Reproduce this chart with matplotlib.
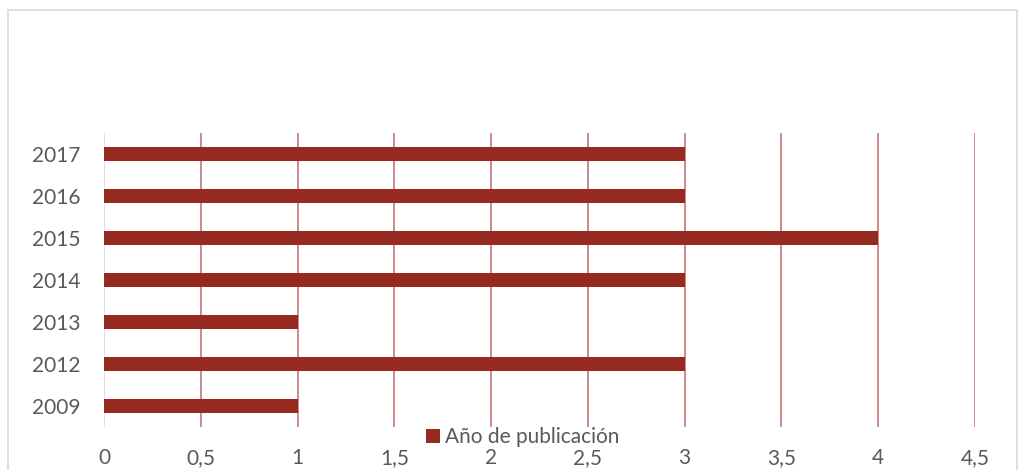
import matplotlib.pyplot as plt
from matplotlib.patches import Rectangle
import numpy as np

plt.rcParams['font.family'] = ['Lato', 'DejaVu Sans']

years = ['2009', '2012', '2013', '2014', '2015', '2016', '2017']
counts = [1, 3, 1, 3, 4, 3, 3]
xticks = [0, 0.5, 1, 1.5, 2, 2.5, 3, 3.5, 4, 4.5]
xtick_labels = ['0', '0,5', '1', '1,5', '2', '2,5', '3', '3,5', '4', '4,5']

bar_color = '#962A20'
grid_color = '#CC8080'
text_color = '#595959'

fig = plt.figure(figsize=(10.19, 4.70), dpi=100)
ax = fig.add_axes([104 / 1019, 1 - 427 / 470, (975 - 104) / 1019, (427 - 133) / 470])

# frame around the chart
fig.patches.append(Rectangle((8 / 1019, -0.05), 1009 / 1019, 1.05 - 10 / 470,
                             transform=fig.transFigure, fill=False,
                             edgecolor='#D9D9D9', linewidth=1.2))

y = np.arange(len(years))
ax.barh(y, counts, height=0.33, color=bar_color, zorder=3, label='Año de publicación')

ax.set_xlim(0, 4.5)
ax.set_ylim(-0.5, len(years) - 0.5)
ax.set_xticks(xticks)
ax.set_xticklabels(xtick_labels)
ax.set_yticks(y)
ax.set_yticklabels(years)

for xv in xticks[1:]:
    ax.axvline(xv, color=grid_color, linewidth=1.3, zorder=1)
ax.axvline(0, color='#D9D9D9', linewidth=1.3, zorder=2)

for s in ax.spines.values():
    s.set_visible(False)
ax.tick_params(length=0, labelsize=15, colors=text_color)
ax.tick_params(axis='x', pad=15)
ax.tick_params(axis='y', pad=17)

fig.legend(loc='center', bbox_to_anchor=(523 / 1019, 1 - 437 / 470), frameon=False,
           fontsize=15, labelcolor=text_color, handlelength=0.65, handleheight=0.65,
           handletextpad=0.25, borderaxespad=0)

fig.savefig('out.png', dpi=100)
